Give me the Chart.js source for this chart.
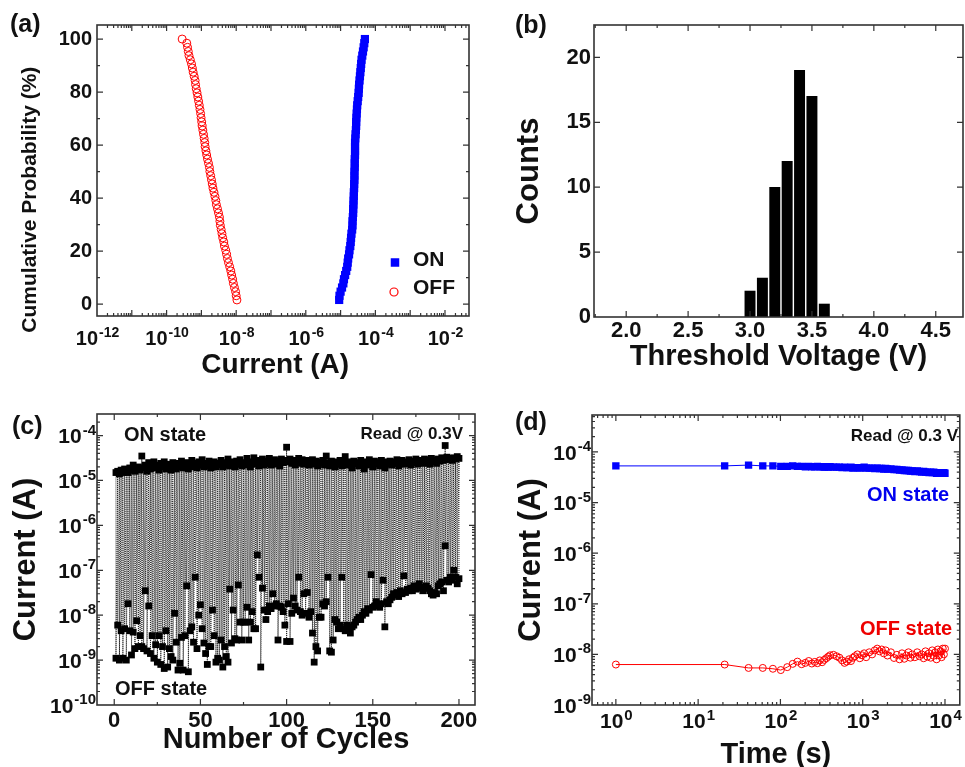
<!DOCTYPE html>
<html><head><meta charset="utf-8">
<script src="https://cdn.jsdelivr.net/npm/chart.js@4.4.0/dist/chart.umd.min.js"></script>
<style>
html,body{margin:0;padding:0;background:#fff;}
#wrap{position:relative;width:965px;height:767px;overflow:hidden;background:#fff;}
canvas{position:absolute;}
</style></head><body>
<div id="wrap">
<canvas id="ca" width="482" height="390" style="left:0px;top:0px"></canvas>
<canvas id="cb" width="483" height="390" style="left:482px;top:0px"></canvas>
<canvas id="cc" width="482" height="377" style="left:0px;top:390px"></canvas>
<canvas id="cd" width="483" height="377" style="left:482px;top:390px"></canvas>
</div>
<script>
// ---------------- DATA ----------------
// (a) cumulative probability of ON / OFF currents (64 devices)
const aProb = [1.56,3.13,4.69,6.25,7.81,9.38,10.94,12.5,14.06,15.63,
  17.19,18.75,20.31,21.88,23.44,25,26.56,28.13,29.69,31.25,
  32.81,34.38,35.94,37.5,39.06,40.63,42.19,43.75,45.31,46.88,
  48.44,50,51.56,53.13,54.69,56.25,57.81,59.38,60.94,62.5,
  64.06,65.63,67.19,68.75,70.31,71.88,73.44,75,76.56,78.13,
  79.69,81.25,82.81,84.38,85.94,87.5,89.06,90.63,92.19,93.75,
  95.31,96.88,98.44,100];
const aOnCurrent = [9.1e-6,9.3e-6,1.0e-5,1.1e-5,1.2e-5,1.25e-5,1.35e-5,1.45e-5,1.55e-5,1.6e-5,
  1.65e-5,1.75e-5,1.8e-5,1.9e-5,1.95e-5,2.0e-5,2.05e-5,2.15e-5,2.2e-5,2.2e-5,
  2.25e-5,2.3e-5,2.3e-5,2.35e-5,2.35e-5,2.4e-5,2.4e-5,2.45e-5,2.45e-5,2.5e-5,
  2.5e-5,2.5e-5,2.55e-5,2.55e-5,2.55e-5,2.6e-5,2.6e-5,2.6e-5,2.6e-5,2.65e-5,
  2.7e-5,2.75e-5,2.8e-5,2.8e-5,2.85e-5,2.9e-5,2.95e-5,3.0e-5,3.1e-5,3.2e-5,
  3.3e-5,3.35e-5,3.4e-5,3.5e-5,3.6e-5,3.7e-5,3.8e-5,3.9e-5,4.0e-5,4.2e-5,
  4.4e-5,4.6e-5,4.8e-5,5.0e-5];
const aOffCurrent = [1.05e-8,1.0e-8,9.6e-9,8.9e-9,8.3e-9,7.9e-9,7.4e-9,7.0e-9,6.5e-9,6.0e-9,
  5.6e-9,5.3e-9,5.0e-9,4.6e-9,4.4e-9,4.1e-9,3.9e-9,3.7e-9,3.5e-9,3.4e-9,
  3.3e-9,3.1e-9,2.9e-9,2.7e-9,2.6e-9,2.45e-9,2.3e-9,2.15e-9,2.05e-9,1.95e-9,
  1.85e-9,1.75e-9,1.7e-9,1.6e-9,1.5e-9,1.42e-9,1.35e-9,1.28e-9,1.25e-9,1.2e-9,
  1.15e-9,1.1e-9,1.05e-9,1.02e-9,9.8e-10,9.5e-10,9.1e-10,8.7e-10,8.3e-10,7.9e-10,
  7.5e-10,7.1e-10,6.8e-10,6.6e-10,6.2e-10,5.8e-10,5.5e-10,5.2e-10,4.8e-10,4.4e-10,
  4.2e-10,4.0e-10,3.8e-10,2.8e-10];
const aXTicks = [1e-12,1e-10,1e-8,1e-6,1e-4,1e-2];
const aXExps = ['-12','-10','-8','-6','-4','-2'];
const aYTicks = [0,20,40,60,80,100];

// (b) threshold voltage histogram
const bVoltage = [3.0,3.1,3.2,3.3,3.4,3.5,3.6];
const bCounts = [2,3,10,12,19,17,1];
const bXTicks = [2.0,2.5,3.0,3.5,4.0,4.5];
const bXLabels = ['2.0','2.5','3.0','3.5','4.0','4.5'];
const bYTicks = [0,5,10,15,20];

// (c) endurance: 200 cycles
const cCycles = Array.from({length:200},(_,i)=>i+1);
const cOn = [1.5e-5,1.6e-5,1.4e-5,1.7e-5,1.5e-5,1.8e-5,1.6e-5,1.5e-5,1.9e-5,1.7e-5,
  2.2e-5,1.6e-5,1.8e-5,2.0e-5,1.7e-5,3.5e-5,1.9e-5,2.2e-5,1.6e-5,2.5e-5,
  1.8e-5,2.1e-5,2.6e-5,1.9e-5,2.2e-5,1.7e-5,2.4e-5,2.0e-5,2.6e-5,1.8e-5,
  2.3e-5,2.0e-5,1.7e-5,2.5e-5,2.1e-5,1.8e-5,2.4e-5,2.0e-5,2.7e-5,1.9e-5,
  2.2e-5,2.5e-5,1.8e-5,2.3e-5,2.8e-5,2.0e-5,2.4e-5,1.9e-5,2.6e-5,2.2e-5,
  2.9e-5,2.0e-5,2.4e-5,2.1e-5,2.7e-5,1.9e-5,2.3e-5,2.6e-5,2.0e-5,2.4e-5,
  2.2e-5,2.8e-5,2.0e-5,2.5e-5,2.2e-5,3.0e-5,2.1e-5,2.6e-5,2.3e-5,2.0e-5,
  2.7e-5,2.3e-5,2.9e-5,2.1e-5,2.5e-5,2.2e-5,3.1e-5,2.4e-5,2.0e-5,2.6e-5,
  3.2e-5,2.3e-5,2.8e-5,2.1e-5,2.5e-5,3.0e-5,2.2e-5,2.7e-5,2.4e-5,3.1e-5,
  2.2e-5,2.6e-5,2.9e-5,2.3e-5,2.7e-5,2.1e-5,3.0e-5,2.5e-5,2.8e-5,5.5e-5,
  2.6e-5,3.0e-5,2.4e-5,2.8e-5,2.2e-5,2.7e-5,3.1e-5,2.4e-5,2.9e-5,2.3e-5,
  2.6e-5,2.8e-5,2.2e-5,2.5e-5,2.9e-5,2.3e-5,2.7e-5,2.1e-5,2.6e-5,2.4e-5,
  2.8e-5,2.2e-5,3.5e-5,2.5e-5,2.1e-5,2.7e-5,2.4e-5,2.0e-5,2.6e-5,2.3e-5,
  2.8e-5,2.1e-5,2.5e-5,3.4e-5,2.2e-5,2.6e-5,2.4e-5,1.9e-5,2.7e-5,2.3e-5,
  2.5e-5,2.1e-5,2.8e-5,2.3e-5,1.8e-5,2.6e-5,2.2e-5,2.9e-5,2.4e-5,2.0e-5,
  2.7e-5,2.3e-5,2.5e-5,2.1e-5,2.8e-5,2.4e-5,1.9e-5,2.6e-5,2.3e-5,2.7e-5,
  2.2e-5,2.6e-5,2.4e-5,2.9e-5,2.1e-5,2.5e-5,2.8e-5,2.3e-5,2.6e-5,2.4e-5,
  2.9e-5,2.2e-5,2.7e-5,2.5e-5,3.0e-5,2.3e-5,2.8e-5,2.6e-5,2.4e-5,3.0e-5,
  2.5e-5,2.8e-5,2.3e-5,3.1e-5,2.6e-5,2.9e-5,2.4e-5,3.0e-5,2.7e-5,3.2e-5,
  2.8e-5,6.0e-5,3.3e-5,2.9e-5,3.1e-5,2.8e-5,3.2e-5,3.0e-5,3.4e-5,3.1e-5];
const cOff = [1.1e-9,6e-9,1e-9,4.5e-9,1.1e-9,5e-9,1e-9,1.8e-8,4.5e-9,1.3e-9,
  4.2e-9,1.8e-9,7.5e-9,2e-9,3.5e-9,2e-9,1.8e-9,3.5e-8,1.6e-9,1.6e-8,
  1.4e-9,3.5e-9,1.1e-9,2.2e-9,9e-10,3.5e-9,8e-10,2e-9,6.5e-10,4.5e-9,
  7e-10,1.8e-9,1.2e-9,1e-9,1.1e-8,2.5e-9,6e-10,8.5e-10,3.2e-9,6e-10,
  3.5e-9,4.5e-8,5.5e-10,4.5e-9,5.5e-9,2.5e-9,7e-8,1.8e-9,1e-8,1.7e-8,
  5e-9,2.4e-9,1.4e-9,8e-10,2e-9,2e-9,1.3e-8,3.5e-9,9e-10,1.1e-9,
  1e-9,2.8e-9,7e-10,2e-9,1.2e-9,9e-10,3.8e-8,2.4e-9,1.3e-8,3e-9,
  2.8e-9,4.7e-8,7e-9,2.8e-9,7e-9,7e-9,1.5e-8,2.8e-9,7e-9,1.2e-8,
  5e-9,5e-9,2.2e-7,7e-8,7e-10,4e-8,1.3e-8,8e-9,1.2e-8,1.6e-8,
  1.4e-8,3e-8,1.6e-8,1.8e-8,2.8e-9,1.6e-8,1.5e-8,1.2e-8,6e-9,2.6e-9,
  1.8e-8,2.6e-9,1.1e-8,2.4e-8,1.6e-8,1.3e-8,7e-8,1.2e-8,1e-8,3e-8,
  1.1e-8,3.2e-8,9e-9,1.2e-8,4e-9,9e-10,2e-9,1.6e-9,9e-9,9e-9,
  1.8e-8,1.6e-8,2e-8,7e-8,1.6e-9,1.5e-9,2.8e-9,8e-9,7e-9,5e-9,
  6e-9,7e-8,5e-9,4.5e-9,6e-9,5e-9,4e-9,5.5e-9,6e-9,7e-9,
  8e-9,9e-9,8e-9,1e-8,1.2e-8,1.1e-8,1.4e-8,1.3e-8,8e-8,1.5e-8,
  1.6e-8,2e-8,1.7e-8,1.5e-8,1.8e-8,6e-8,5.5e-9,2e-8,1.8e-8,2.2e-8,
  2.5e-8,3e-8,2.8e-8,3.2e-8,2.6e-8,3.5e-8,3e-8,7.5e-8,3.2e-8,3.8e-8,
  3.5e-8,4e-8,3.5e-8,4.5e-8,3.8e-8,4e-8,5e-8,4.2e-8,3.5e-8,4e-8,
  4.5e-8,4e-8,3.5e-8,3e-8,2.8e-8,3.2e-8,3e-8,4.5e-8,5e-8,5.5e-8,
  3.5e-8,3.5e-7,6e-8,5.5e-8,7e-8,6e-8,1e-7,7e-8,5e-8,6.5e-8];
const cXTicks = [0,50,100,150,200];
const cYTicks = [1e-10,1e-9,1e-8,1e-7,1e-6,1e-5,1e-4];
const cYExps = ['-10','-9','-8','-7','-6','-5','-4'];

// (d) retention
const dTime = [1,21,41,61,81,101,121,141,161,181,
  201,221,241,261,281,301,321,341,361,381,
  401,441,481,521,561,601,641,681,721,761,
  801,861,921,981,1041,1101,1201,1301,1401,1501,
  1601,1701,1801,1901,2001,2201,2401,2601,2801,3001,
  3201,3401,3601,3801,4001,4301,4601,4901,5201,5501,
  5801,6101,6401,6701,7001,7301,7601,7901,8201,8501,
  8801,9101,9401,9701,10001];
const dOn = [5.3e-5,5.3e-5,5.5e-5,5.3e-5,5.3e-5,5.2e-5,5.2e-5,5.3e-5,5.2e-5,5.2e-5,
  5.1e-5,5.2e-5,5.1e-5,5.1e-5,5.2e-5,5.1e-5,5.1e-5,5.0e-5,5.1e-5,5.0e-5,
  5.1e-5,5.0e-5,5.0e-5,5.0e-5,4.9e-5,5.0e-5,4.9e-5,4.9e-5,5.0e-5,4.8e-5,
  4.9e-5,4.9e-5,4.8e-5,4.9e-5,5.0e-5,4.8e-5,4.8e-5,4.8e-5,4.7e-5,4.8e-5,
  4.7e-5,4.7e-5,4.6e-5,4.7e-5,4.6e-5,4.6e-5,4.5e-5,4.5e-5,4.4e-5,4.4e-5,
  4.3e-5,4.3e-5,4.3e-5,4.2e-5,4.2e-5,4.1e-5,4.2e-5,4.1e-5,4.0e-5,4.1e-5,
  4.0e-5,4.0e-5,3.9e-5,4.0e-5,3.9e-5,4.0e-5,3.9e-5,3.8e-5,3.9e-5,3.9e-5,
  3.8e-5,3.9e-5,3.8e-5,3.9e-5,3.8e-5];
const dOff = [6.3e-9,6.3e-9,5.4e-9,5.4e-9,5.2e-9,4.9e-9,5.6e-9,6.5e-9,7.2e-9,6.4e-9,
  6.8e-9,7.4e-9,6.6e-9,7.1e-9,6.7e-9,7.6e-9,7.0e-9,7.8e-9,8.4e-9,9.0e-9,
  9.6e-9,9.8e-9,9.2e-9,8.6e-9,7.6e-9,6.8e-9,7.2e-9,8.0e-9,7.4e-9,8.6e-9,
  9.2e-9,1.0e-8,8.4e-9,9.6e-9,1.05e-8,8.8e-9,1.1e-8,1.0e-8,1.2e-8,1.3e-8,
  1.15e-8,1.25e-8,1.05e-8,1.2e-8,9.5e-9,1.1e-8,8.5e-9,9.8e-9,8.0e-9,1.05e-8,
  8.2e-9,9.5e-9,1.1e-8,8.6e-9,1.0e-8,8.8e-9,1.1e-8,9.2e-9,1.0e-8,8.4e-9,
  1.15e-8,9.0e-9,1.05e-8,8.6e-9,1.2e-8,9.4e-9,1.1e-8,8.0e-9,1.25e-8,9.6e-9,
  1.15e-8,8.8e-9,1.3e-8,1.0e-8,1.3e-8];
const dXTicks = [1,10,100,1000,10000];
const dXExps = ['0','1','2','3','4'];
const dYTicks = [1e-9,1e-8,1e-7,1e-6,1e-5,1e-4];
const dYExps = ['-9','-8','-7','-6','-5','-4'];

// ---------------- HELPERS ----------------
const FONT = "'Liberation Sans', Arial, 'DejaVu Sans', sans-serif";
const INK = '#111111';
const BLUE = '#0000ff';
const RED = '#ff0000';
function bold(size){ return {family: FONT, size: size, weight: 'bold'}; }
function logMinors(e0, e1){ const o=[]; for(let e=e0;e<=e1;e++){ for(let m=2;m<=9;m++) o.push(m*Math.pow(10,e)); } return o; }
function logDecades(e0, e1){ const o=[]; for(let e=e0;e<=e1;e++) o.push(Math.pow(10,e)); return o; }

function framePlugin(spec){
  return { id:'frame', afterDatasetsDraw(chart){
    const ctx = chart.ctx, a = chart.chartArea, sx = chart.scales.x, sy = chart.scales.y;
    ctx.save();
    ctx.strokeStyle = '#333'; ctx.lineWidth = 1.2;
    const tx = (vals, len) => { for (const v of vals){ const p = sx.getPixelForValue(v); if (p < a.left+0.5 || p > a.right-0.5) continue;
      ctx.beginPath(); ctx.moveTo(p, a.bottom); ctx.lineTo(p, a.bottom-len); ctx.moveTo(p, a.top); ctx.lineTo(p, a.top+len); ctx.stroke(); } };
    const ty = (vals, len) => { for (const v of vals){ const p = sy.getPixelForValue(v); if (p < a.top+0.5 || p > a.bottom-0.5) continue;
      ctx.beginPath(); ctx.moveTo(a.left, p); ctx.lineTo(a.left+len, p); ctx.moveTo(a.right, p); ctx.lineTo(a.right-len, p); ctx.stroke(); } };
    tx(spec.xMajor, 6); tx(spec.xMinor || [], 3);
    ty(spec.yMajor, 6); ty(spec.yMinor || [], 3);
    ctx.lineWidth = 1.6;
    ctx.strokeRect(a.left, a.top, a.right-a.left, a.bottom-a.top);
    ctx.restore();
  }};
}
// power-of-ten tick labels ("10" with a raised exponent), placed by the chart's own scales
function expLabelsPlugin(list){
  return { id:'explabels', afterDraw(chart){
    const ctx = chart.ctx, a = chart.chartArea;
    ctx.save(); ctx.fillStyle = INK; ctx.textBaseline = 'alphabetic'; ctx.textAlign = 'left';
    for (const L of list){
      const sc = chart.scales[L.axis];
      L.values.forEach((v, i) => {
        const p = sc.getPixelForValue(v);
        ctx.font = 'bold ' + L.base + 'px ' + FONT; const wb = ctx.measureText('10').width;
        ctx.font = 'bold ' + L.exp + 'px ' + FONT; const we = ctx.measureText(L.exps[i]).width;
        let x0, yb;
        if (L.axis === 'x'){ x0 = p - (wb + we) / 2; yb = a.bottom + L.pad; }
        else { x0 = a.left - L.pad - wb - we - 1; yb = p + L.base * 0.36; }
        ctx.font = 'bold ' + L.base + 'px ' + FONT; ctx.fillText('10', x0, yb);
        ctx.font = 'bold ' + L.exp + 'px ' + FONT; ctx.fillText(L.exps[i], x0 + wb + 1, yb - L.raise);
      });
    }
    ctx.restore();
  }};
}
function notesPlugin(items){
  return { id:'notes', afterDraw(chart){
    const ctx = chart.ctx; ctx.save();
    for (const it of items){
      if (it.marker === 'rect'){ ctx.fillStyle = it.color; ctx.fillRect(it.x-it.s/2, it.y-it.s/2, it.s, it.s); }
      else if (it.marker === 'circle'){ ctx.strokeStyle = it.color; ctx.lineWidth = 1.2; ctx.beginPath(); ctx.arc(it.x, it.y, it.s/2, 0, Math.PI*2); ctx.stroke(); }
      else { ctx.font = 'bold ' + it.size + 'px ' + FONT; ctx.fillStyle = it.color || INK; ctx.textAlign = it.align || 'left'; ctx.textBaseline = 'middle'; ctx.fillText(it.text, it.x, it.y); }
    }
    ctx.restore();
  }};
}
function axis(o){
  return {
    type: o.type, min: o.min, max: o.max, offset: false,
    grid: {display:false, drawTicks:false, offset:false}, border: {display:false},
    afterBuildTicks: s => { s.ticks = o.ticks.map(v => ({value: v})); },
    ticks: { display: !o.custom, autoSkip:false, maxRotation:0, minRotation:0, padding:o.tickPad || 0, font:bold(o.tickFont || 20), color:INK,
      callback: (v, i) => o.labels ? o.labels[i] : String(v) },
    title: { display:true, text:o.title, font:bold(o.titleFont), color:INK,
      padding: o.horizontal ? {top:0, bottom:o.titlePad} : {top:o.titlePad, bottom:0} },
    afterFit: s => { if (o.horizontal){ s.height = o.size; s.paddingLeft = 0; s.paddingRight = 0; } else { s.width = o.size; s.paddingTop = 0; s.paddingBottom = 0; } }
  };
}
const common = { responsive:false, animation:false, devicePixelRatio:1, events:[],
  plugins:{ legend:{display:false}, tooltip:{enabled:false} } };

// ---------------- (a) ----------------
new Chart(document.getElementById('ca'), {
  type: 'scatter',
  data: { datasets: [
    { label:'ON', data: aOnCurrent.map((x,i)=>({x:x, y:aProb[i]})), pointStyle:'rect', pointRadius:5.8,
      pointBackgroundColor:BLUE, pointBorderWidth:0 },
    { label:'OFF', data: aOffCurrent.map((x,i)=>({x:x, y:aProb[i]})), pointStyle:'circle', pointRadius:4,
      pointBackgroundColor:'rgba(255,255,255,0)', pointBorderColor:RED, pointBorderWidth:1 }
  ]},
  options: Object.assign({}, common, {
    layout: { padding: {top:25, right:13, left:0, bottom:0} },
    scales: {
      x: axis({type:'logarithmic', min:1e-12, max:Math.pow(10,-1.31), ticks:aXTicks, custom:true,
        title:'Current (A)\u00A0\u00A0', titleFont:28, titlePad:8, size:74, horizontal:true}),
      y: axis({type:'linear', min:-4.5, max:105.3, ticks:aYTicks, tickPad:5, tickFont:20,
        title:'Cumulative Probability (%)' + '\u00A0'.repeat(10), titleFont:21, titlePad:18, size:97, horizontal:false})
    }
  }),
  plugins: [
    framePlugin({ xMajor: logDecades(-12,-2), xMinor: logMinors(-12,-2), yMajor: aYTicks, yMinor: [10,30,50,70,90] }),
    expLabelsPlugin([{axis:'x', values:aXTicks, exps:aXExps, base:20, exp:14, pad:29, raise:8}]),
    notesPlugin([
      {text:'(a)', x:10, y:25, size:25},
      {marker:'rect', x:395, y:262.5, s:8.5, color:BLUE},
      {text:'ON', x:413, y:260, size:21},
      {marker:'circle', x:394, y:292, s:8, color:RED},
      {text:'OFF', x:413, y:288, size:21}
    ])
  ]
});

// ---------------- (b) ----------------
new Chart(document.getElementById('cb'), {
  type: 'bar',
  data: { datasets: [
    { label:'Counts', data: bVoltage.map((v,i)=>({x:v, y:bCounts[i]})), backgroundColor:'#000000', borderWidth:0, barThickness:10.3 }
  ]},
  options: Object.assign({}, common, {
    layout: { padding: {top:25, right:2, left:0, bottom:0} },
    scales: {
      x: axis({type:'linear', min:1.74, max:4.72, ticks:bXTicks, labels:bXLabels, tickPad:1, tickFont:22,
        title:'Threshold Voltage (V)', titleFont:29, titlePad:15.6, size:73, horizontal:true}),
      y: axis({type:'linear', min:0, max:22.5, ticks:bYTicks, tickPad:3, tickFont:22,
        title:'Counts', titleFont:31, titlePad:29, size:112, horizontal:false})
    }
  }),
  plugins: [
    framePlugin({ xMajor: bXTicks, xMinor: [1.75,2.25,2.75,3.25,3.75,4.25,4.75], yMajor: bYTicks }),
    notesPlugin([ {text:'(b)', x:33, y:26, size:25} ])
  ]
});

// ---------------- (c) ----------------
const cSeries = [];
for (let i = 0; i < cCycles.length; i++){ cSeries.push({x:cCycles[i], y:cOn[i]}); cSeries.push({x:cCycles[i], y:cOff[i]}); }
new Chart(document.getElementById('cc'), {
  type: 'scatter',
  data: { datasets: [
    { label:'Endurance', data: cSeries, showLine:true, borderColor:'#222222', borderWidth:1, borderDash:[1,1],
      pointStyle:'rect', pointRadius:4.8, pointBackgroundColor:'#000000', pointBorderWidth:0 }
  ]},
  options: Object.assign({}, common, {
    layout: { padding: {top:24, right:7, left:0, bottom:0} },
    scales: {
      x: axis({type:'linear', min:-10, max:209.3, ticks:cXTicks, tickPad:2.5, tickFont:22,
        title:'Number of Cycles', titleFont:29, titlePad:9.6, size:62, horizontal:true}),
      y: axis({type:'logarithmic', min:1e-10, max:Math.pow(10,-3.52), ticks:cYTicks, custom:true,
        title:'Current (A)', titleFont:31, titlePad:7.4, size:97, horizontal:false})
    }
  }),
  plugins: [
    framePlugin({ xMajor: cXTicks, xMinor: [25,75,125,175], yMajor: cYTicks, yMinor: logMinors(-10,-4) }),
    expLabelsPlugin([{axis:'y', values:cYTicks, exps:cYExps, base:21, exp:15, pad:1, raise:8.5}]),
    notesPlugin([
      {text:'(c)', x:12, y:37, size:25},
      {text:'ON state', x:124, y:45.5, size:20},
      {text:'Read @ 0.3V', x:463, y:44, size:17, align:'right'},
      {text:'OFF state', x:115, y:299.5, size:20}
    ])
  ]
});

// ---------------- (d) ----------------
new Chart(document.getElementById('cd'), {
  type: 'scatter',
  data: { datasets: [
    { label:'ON state', data: dTime.map((t,i)=>({x:t, y:dOn[i]})), showLine:true, borderColor:BLUE, borderWidth:1,
      pointStyle:'rect', pointRadius:5.2, pointBackgroundColor:BLUE, pointBorderWidth:0 },
    { label:'OFF state', data: dTime.map((t,i)=>({x:t, y:dOff[i]})), showLine:true, borderColor:RED, borderWidth:1,
      pointStyle:'circle', pointRadius:3.5, pointBackgroundColor:'rgba(255,255,255,0)', pointBorderColor:RED, pointBorderWidth:1 }
  ]},
  options: Object.assign({}, common, {
    layout: { padding: {top:25, right:2, left:0, bottom:0} },
    scales: {
      x: axis({type:'logarithmic', min:Math.pow(10,-0.29), max:Math.pow(10,4.18), ticks:dXTicks, custom:true,
        title:'Time (s)', titleFont:29, titlePad:-5, size:62, horizontal:true}),
      y: axis({type:'logarithmic', min:1e-9, max:Math.pow(10,-3.27), ticks:dYTicks, custom:true,
        title:'Current (A)', titleFont:31, titlePad:30.4, size:110, horizontal:false})
    }
  }),
  plugins: [
    framePlugin({ xMajor: dXTicks, xMinor: logMinors(-1,4), yMajor: dYTicks, yMinor: logMinors(-9,-4) }),
    expLabelsPlugin([
      {axis:'x', values:dXTicks, exps:dXExps, base:21, exp:15, pad:23, raise:8.5},
      {axis:'y', values:dYTicks, exps:dYExps, base:21, exp:15, pad:1, raise:8.5}
    ]),
    notesPlugin([
      {text:'(d)', x:33, y:33, size:25},
      {text:'Read @ 0.3 V', x:476, y:46.5, size:17, align:'right'},
      {text:'ON state', x:385, y:105, size:20, color:'#0000ee'},
      {text:'OFF state', x:378, y:239.5, size:20, color:'#ee0000'}
    ])
  ]
});
</script>
</body></html>
